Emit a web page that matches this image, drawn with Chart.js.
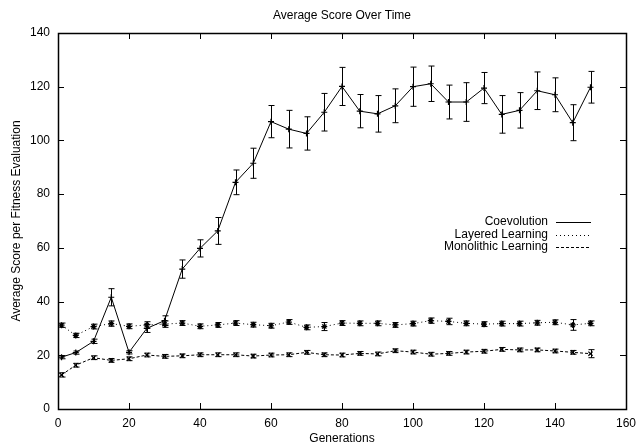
<!DOCTYPE html>
<html>
<head>
<meta charset="utf-8">
<script src="https://cdn.jsdelivr.net/npm/chart.js@4/dist/chart.umd.min.js"></script>
<style>
  html, body { margin: 0; padding: 0; background: #fff; }
  #wrap { width: 636px; height: 447px; }
</style>
</head>
<body>
<div id="wrap"><canvas id="scoreChart" width="636" height="447"></canvas></div>
<script>
// generations sampled every 5 (first one at 1)
const generations = [1, 5, 10, 15, 20, 25, 30, 35, 40, 45, 50, 55, 60, 65, 70, 75, 80, 85, 90, 95, 100, 105, 110, 115, 120, 125, 130, 135, 140, 145, 150];

const coevolution = [19.3, 21.0, 25.2, 41.6, 21.1, 30.0, 32.9, 52.1, 59.8, 66.3, 84.4, 91.5, 107.0, 104.2, 102.6, 110.5, 120.1, 110.9, 109.9, 112.9, 120.0, 121.1, 114.3, 114.3, 119.5, 109.7, 111.2, 118.5, 117.0, 106.6, 119.8];
const coevolution_err = [0.6, 0.6, 0.8, 3.2, 0.6, 1.5, 1.8, 3.4, 3.2, 5.0, 4.6, 5.6, 6.0, 7.0, 6.2, 7.0, 7.1, 6.2, 6.8, 6.3, 7.3, 6.6, 6.3, 7.2, 5.8, 7.0, 6.6, 7.0, 6.3, 6.7, 5.9];

const layered = [31.2, 27.4, 30.7, 31.8, 30.8, 31.3, 31.6, 32.0, 30.8, 31.3, 32.0, 31.4, 31.0, 32.4, 30.4, 30.7, 32.0, 31.9, 31.9, 31.3, 31.8, 32.9, 32.6, 31.9, 31.6, 31.8, 31.8, 32.1, 32.3, 31.3, 31.9];
const layered_err = [0.8, 0.8, 0.9, 1.0, 0.9, 1.2, 1.2, 0.9, 0.9, 0.9, 0.9, 0.9, 0.9, 0.9, 0.9, 1.5, 0.9, 0.9, 0.9, 0.9, 0.9, 1.0, 1.2, 0.9, 0.9, 0.9, 0.9, 0.9, 0.9, 2.0, 0.9];

const monolithic = [12.7, 16.3, 19.1, 18.1, 18.7, 20.1, 19.6, 19.8, 20.2, 20.2, 20.2, 19.7, 20.1, 20.2, 21.1, 20.2, 20.1, 20.7, 20.5, 21.7, 21.2, 20.4, 20.7, 21.2, 21.5, 22.2, 22.0, 22.0, 21.6, 21.1, 20.6];
const monolithic_err = [0.8, 0.7, 0.7, 0.7, 0.7, 0.7, 0.7, 0.7, 0.7, 0.7, 0.7, 0.7, 0.7, 0.7, 0.7, 0.7, 0.7, 0.7, 0.7, 0.7, 0.7, 0.7, 0.7, 0.7, 0.7, 0.7, 0.7, 0.7, 0.7, 0.7, 1.5];

const x_ticks = [0, 20, 40, 60, 80, 100, 120, 140, 160];
const y_ticks = [0, 20, 40, 60, 80, 100, 120, 140];

Chart.defaults.font.family = '"Liberation Sans", Arial, Helvetica, sans-serif';
Chart.defaults.font.size = 12;
Chart.defaults.color = '#000';

const series = [
  { label: 'Coevolution', values: coevolution, errors: coevolution_err, dash: [], marker: 'cross' },
  { label: 'Layered Learning', values: layered, errors: layered_err, dash: [1, 3], marker: 'star' },
  { label: 'Monolithic Learning', values: monolithic, errors: monolithic_err, dash: [3, 2], marker: 'crossRot' }
];

// frame + inward ticks on all four sides (gnuplot style)
const framePlugin = {
  id: 'frame',
  afterDatasetsDraw(chart) {
    const { ctx, chartArea: a, scales } = chart;
    ctx.save();
    ctx.strokeStyle = '#000';
    ctx.lineWidth = 1;
    x_ticks.forEach(v => {
      const px = Math.round(scales.x.getPixelForValue(v)) + 0.5;
      ctx.beginPath();
      ctx.moveTo(px, a.bottom); ctx.lineTo(px, a.bottom - 6);
      ctx.moveTo(px, a.top); ctx.lineTo(px, a.top + 6);
      ctx.stroke();
    });
    y_ticks.forEach(v => {
      const py = Math.round(scales.y.getPixelForValue(v)) + 0.5;
      ctx.beginPath();
      ctx.moveTo(a.left, py); ctx.lineTo(a.left + 6, py);
      ctx.moveTo(a.right, py); ctx.lineTo(a.right - 6, py);
      ctx.stroke();
    });
    ctx.lineWidth = 1.5;
    ctx.strokeRect(Math.round(a.left) + 0.5, Math.round(a.top) + 0.5, Math.round(a.right - a.left), Math.round(a.bottom - a.top));
    ctx.restore();
  }
};

// vertical error bars with small caps
const errorBarPlugin = {
  id: 'errorBars',
  afterDatasetsDraw(chart) {
    const { ctx, scales } = chart;
    ctx.save();
    ctx.strokeStyle = '#000';
    ctx.lineWidth = 1;
    chart.data.datasets.forEach((ds, i) => {
      const meta = chart.getDatasetMeta(i);
      meta.data.forEach((pt, j) => {
        const v = series[i].values[j];
        const e = series[i].errors[j];
        const x = Math.round(pt.x) + 0.5;
        const y1 = scales.y.getPixelForValue(v + e);
        const y2 = scales.y.getPixelForValue(v - e);
        ctx.beginPath();
        ctx.moveTo(x, y1); ctx.lineTo(x, y2);
        ctx.moveTo(x - 3, y1); ctx.lineTo(x + 3, y1);
        ctx.moveTo(x - 3, y2); ctx.lineTo(x + 3, y2);
        ctx.stroke();
      });
    });
    ctx.restore();
  }
};

// key drawn inside the plot, text then line sample
const keyPlugin = {
  id: 'key',
  afterDraw(chart) {
    const { ctx, chartArea: a } = chart;
    ctx.save();
    ctx.font = '12px "Liberation Sans", Arial, sans-serif';
    ctx.fillStyle = '#000';
    ctx.strokeStyle = '#000';
    ctx.lineWidth = 1;
    ctx.textAlign = 'right';
    ctx.textBaseline = 'middle';
    series.forEach((s, i) => {
      const y = a.top + 189 + i * 12.5;
      ctx.fillText(s.label, a.right - 78, y);
      ctx.setLineDash(s.dash);
      ctx.beginPath();
      ctx.moveTo(a.right - 70, Math.round(y) + 0.5);
      ctx.lineTo(a.right - 35, Math.round(y) + 0.5);
      ctx.stroke();
    });
    ctx.restore();
  }
};

const ctx = document.getElementById('scoreChart').getContext('2d');

const chart = new Chart(ctx, {
  type: 'line',
  data: {
    datasets: series.map(s => ({
      label: s.label,
      data: generations.map((g, j) => ({ x: g, y: s.values[j] })),
      borderColor: '#000',
      backgroundColor: '#000',
      borderWidth: 1,
      borderDash: s.dash,
      pointStyle: s.marker,
      pointRadius: 3,
      pointBorderWidth: 1.2,
      pointBorderColor: '#000',
      tension: 0,
      fill: false
    }))
  },
  options: {
    responsive: false,
    animation: false,
    devicePixelRatio: 1,
    layout: { padding: 0 },
    plugins: {
      legend: { display: false },
      tooltip: { enabled: false },
      title: {
        display: true,
        fullSize: false,
        text: 'Average Score Over Time',
        font: { size: 12, weight: 'normal' },
        padding: { top: 8, bottom: 10.6 }
      }
    },
    scales: {
      x: {
        type: 'linear',
        min: 0,
        max: 160,
        afterBuildTicks: axis => { axis.ticks = x_ticks.map(v => ({ value: v })); },
        afterFit: axis => {
          axis.height = 38;
          axis.paddingLeft = 0;
          axis.paddingRight = 10;
        },
        grid: { display: false, drawTicks: false },
        border: { display: false },
        ticks: { padding: 7, maxRotation: 0 },
        title: {
          display: true,
          text: 'Generations',
          font: { size: 12 },
          padding: { top: 0, bottom: 1 }
        }
      },
      y: {
        type: 'linear',
        min: 0,
        max: 140,
        afterBuildTicks: axis => { axis.ticks = y_ticks.map(v => ({ value: v })); },
        afterFit: axis => { axis.width = 58; },
        grid: { display: false, drawTicks: false },
        border: { display: false },
        ticks: { padding: 8 },
        title: {
          display: true,
          text: 'Average Score per Fitness Evaluation',
          font: { size: 12 },
          padding: { top: 9, bottom: 0 }
        }
      }
    }
  },
  plugins: [framePlugin, errorBarPlugin, keyPlugin]
});
</script>
</body>
</html>
